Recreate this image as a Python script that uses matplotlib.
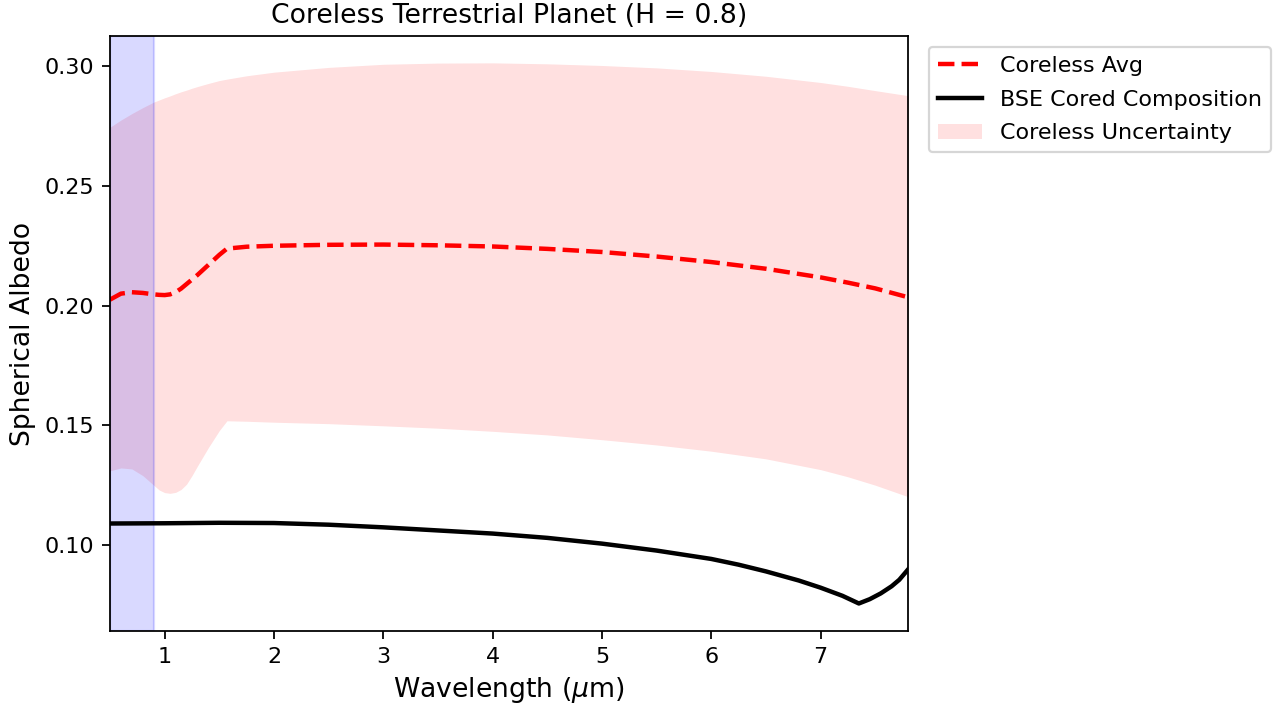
import numpy as np
import matplotlib
matplotlib.use("Agg")
import matplotlib.pyplot as plt

# wavelength grid (um) for the coreless curves
wl = [0.5, 0.6, 0.7, 0.8, 0.9, 0.95, 1.0, 1.05, 1.1, 1.15, 1.2, 1.25, 1.3,
      1.4, 1.5, 1.57, 1.75, 2.0, 2.5, 3.0, 3.5, 4.0, 4.5, 5.0, 5.5, 6.0,
      6.5, 7.0, 7.25, 7.5, 7.8]
coreless_avg = [0.2025, 0.2050, 0.2056, 0.2053, 0.2047, 0.2045, 0.2044, 0.2047,
                0.2056, 0.2071, 0.2090, 0.2109, 0.2128, 0.2170, 0.2212, 0.2238,
                0.2246, 0.2250, 0.2254, 0.2255, 0.2252, 0.2247, 0.2237, 0.2224,
                0.2205, 0.2182, 0.2154, 0.2118, 0.2096, 0.2072, 0.2035]
coreless_hi = [0.2745, 0.2775, 0.2802, 0.2827, 0.2850, 0.2859, 0.2868, 0.2876,
               0.2885, 0.2893, 0.2900, 0.2908, 0.2915, 0.2928, 0.2940, 0.2946,
               0.2960, 0.2975, 0.2995, 0.3008, 0.3013, 0.3014, 0.3010, 0.3003,
               0.2993, 0.2978, 0.2958, 0.2932, 0.2916, 0.2898, 0.2877]
coreless_lo = [0.1310, 0.1322, 0.1318, 0.1290, 0.1250, 0.1230, 0.1219, 0.1216,
               0.1220, 0.1232, 0.1254, 0.1290, 0.1330, 0.1407, 0.1478, 0.1519,
               0.1517, 0.1513, 0.1507, 0.1498, 0.1488, 0.1475, 0.1460, 0.1440,
               0.1418, 0.1392, 0.1360, 0.1315, 0.1285, 0.1250, 0.1202]

# BSE cored composition
wl_bse = [0.5, 1.0, 1.5, 2.0, 2.5, 3.0, 3.5, 4.0, 4.5, 5.0, 5.5, 6.0, 6.25,
          6.5, 6.8, 7.0, 7.2, 7.35, 7.45, 7.55, 7.65, 7.72, 7.8]
bse = [0.1090, 0.1091, 0.1093, 0.1092, 0.1085, 0.1074, 0.1061, 0.1048, 0.1030,
       0.1006, 0.0977, 0.0942, 0.0918, 0.0890, 0.0852, 0.0822, 0.0788, 0.0756,
       0.0774, 0.0798, 0.0828, 0.0855, 0.0898]

# visible band shading
vis_band = (0.5, 0.9)

dpi = 160
fig = plt.figure(figsize=(1288 / dpi, 711 / dpi), dpi=dpi)
ax = fig.add_axes([0.0854, 0.1125, 0.6196, 0.8365])

ax.fill_between(wl, coreless_lo, coreless_hi, color="red", alpha=0.12,
                linewidth=0, label="Coreless Uncertainty")
ax.plot(wl, coreless_avg, color="red", linestyle="--", linewidth=2,
        label="Coreless Avg")
ax.plot(wl_bse, bse, color="black", linewidth=2,
        label="BSE Cored Composition")
ax.axvspan(*vis_band, color="blue", alpha=0.15)

ax.set_xlim(0.5, 7.8)
ax.set_ylim(0.0641, 0.3125)
ax.set_xticks([1, 2, 3, 4, 5, 6, 7])
ax.set_yticks([0.10, 0.15, 0.20, 0.25, 0.30])
ax.set_xlabel(r"Wavelength ($\mu$m)", fontsize=12)
ax.set_ylabel("Spherical Albedo", fontsize=12)
ax.set_title("Coreless Terrestrial Planet (H = 0.8)", fontsize=12)

handles, labels = ax.get_legend_handles_labels()
order = [1, 2, 0]
ax.legend([handles[i] for i in order], [labels[i] for i in order],
          loc="upper left", bbox_to_anchor=(929 / 1288, 1 - 47 / 711),
          bbox_transform=fig.transFigure, borderaxespad=0, labelspacing=0.62)

fig.savefig("out.png", dpi=dpi)
